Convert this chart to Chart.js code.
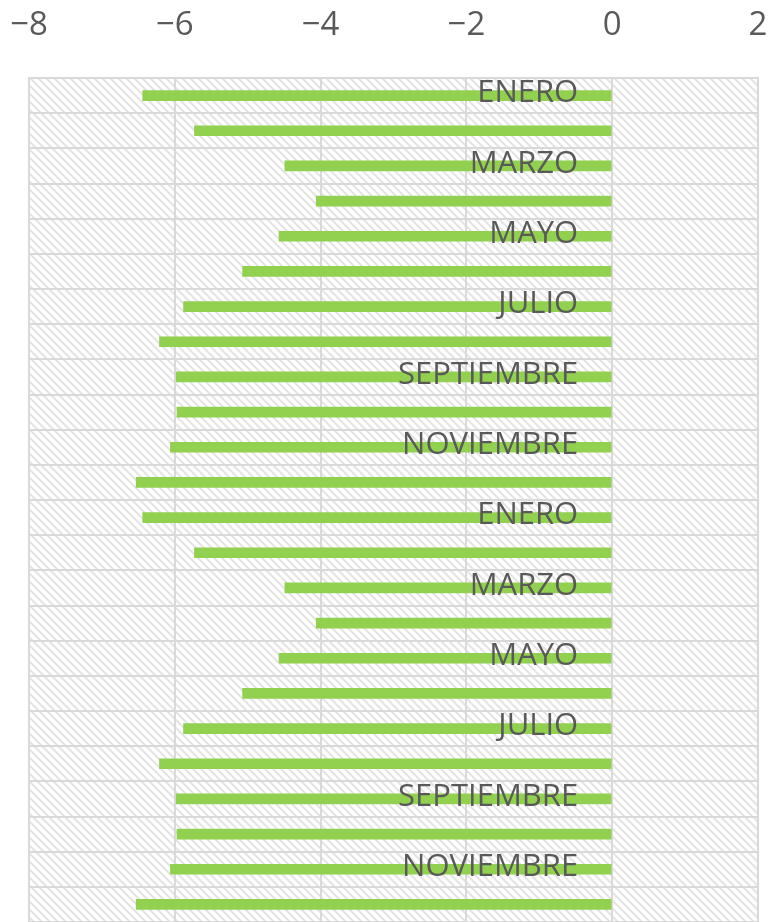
<!DOCTYPE html>
<html>
<head>
<meta charset="utf-8">
<script src="https://cdn.jsdelivr.net/npm/chart.js@4/dist/chart.umd.min.js"></script>
<style>
  html, body { margin: 0; padding: 0; background: #ffffff; }
  #wrap { width: 772px; height: 922px; position: relative; }
</style>
</head>
<body>
<div id="wrap"><canvas id="c" width="772" height="922"></canvas></div>
<script>
const categories = [
  'ENERO','FEBRERO','MARZO','ABRIL','MAYO','JUNIO','JULIO','AGOSTO','SEPTIEMBRE','OCTUBRE','NOVIEMBRE','DICIEMBRE',
  'ENERO','FEBRERO','MARZO','ABRIL','MAYO','JUNIO','JULIO','AGOSTO','SEPTIEMBRE','OCTUBRE','NOVIEMBRE','DICIEMBRE'
];
const values = [
  -6.44, -5.73, -4.49, -4.06, -4.57, -5.07, -5.88, -6.21, -5.98, -5.97, -6.06, -6.53,
  -6.44, -5.73, -4.49, -4.06, -4.57, -5.07, -5.88, -6.21, -5.98, -5.97, -6.06, -6.53
];
const xTicks = [-8, -6, -4, -2, 0, 2];

function makePattern(ctx) {
  const s = 8;
  const c = document.createElement('canvas');
  c.width = s; c.height = s;
  const g = c.getContext('2d');
  g.fillStyle = '#ffffff';
  g.fillRect(0, 0, s, s);
  g.strokeStyle = '#e4e4e4';
  g.lineWidth = 2;
  g.beginPath();
  g.moveTo(-2, -2); g.lineTo(s + 2, s + 2);
  g.moveTo(-2, s - 2); g.lineTo(2, s + 2);
  g.moveTo(s - 2, -2); g.lineTo(s + 2, 2);
  g.stroke();
  return ctx.createPattern(c, 'repeat');
}

const hatchPlugin = {
  id: 'hatch',
  beforeDraw(chart) {
    const { ctx, chartArea: a } = chart;
    ctx.save();
    ctx.fillStyle = makePattern(ctx);
    ctx.fillRect(a.left, a.top, a.right - a.left, a.bottom - a.top);
    ctx.restore();
  }
};

const catLabelPlugin = {
  id: 'catLabels',
  afterDatasetsDraw(chart) {
    const { ctx, scales: { x, y } } = chart;
    const x0 = x.getPixelForValue(0) - 34;
    ctx.save();
    ctx.fillStyle = '#595959';
    ctx.font = '31px "Open Sans"';
    ctx.textAlign = 'right';
    ctx.textBaseline = 'middle';
    categories.forEach((lab, i) => {
      if (i % 2 === 0) ctx.fillText(lab, x0, y.getPixelForValue(i) - 2);
    });
    ctx.restore();
  }
};

new Chart(document.getElementById('c'), {
  type: 'bar',
  data: {
    labels: categories,
    datasets: [{
      data: values,
      backgroundColor: '#92D050',
      borderWidth: 0,
      barThickness: 10
    }]
  },
  options: {
    indexAxis: 'y',
    responsive: false,
    animation: false,
    layout: { padding: { left: 29, right: 14, top: 0, bottom: 0 } },
    plugins: { legend: { display: false }, tooltip: { enabled: false } },
    scales: {
      x: {
        position: 'top',
        min: -8, max: 2,
        afterBuildTicks(scale) { scale.ticks = xTicks.map(v => ({ value: v })); },
        afterFit(scale) { scale.height = 78; scale.paddingLeft = 0; scale.paddingRight = 0; },
        ticks: {
          color: '#595959',
          font: { family: 'Open Sans', size: 33 },
          padding: 33,
          callback: v => (v < 0 ? '\u2212' + Math.abs(v) : String(v))
        },
        grid: { color: '#d9d9d9', lineWidth: 2, drawTicks: false },
        border: { color: '#d9d9d9', width: 2 }
      },
      y: {
        ticks: { display: false },
        grid: { color: '#d9d9d9', lineWidth: 2, drawTicks: false },
        border: { display: false }
      }
    }
  },
  plugins: [hatchPlugin, catLabelPlugin]
});
</script>
</body>
</html>
